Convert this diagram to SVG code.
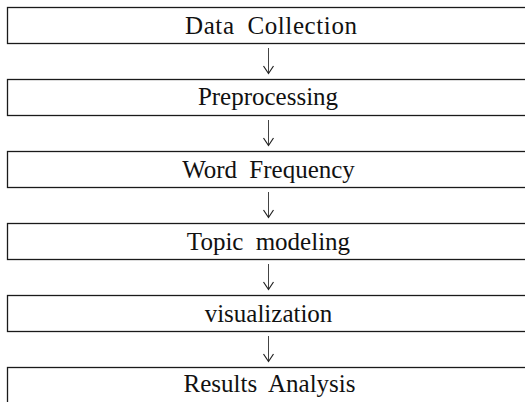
<svg xmlns="http://www.w3.org/2000/svg" width="525" height="402" viewBox="0 0 525 402">
<style>
.box{fill:#ffffff;stroke:#1a1a1a;stroke-width:1.3}
.lbl{font-family:'Liberation Serif','Times New Roman',Times,'DejaVu Serif',serif;font-size:25px;fill:#111;text-anchor:middle;word-spacing:6px}
.arr{stroke:#444;stroke-width:1;fill:none}
.head{fill:none;stroke:#222;stroke-width:1.2}
</style>
<rect width="525" height="402" fill="#ffffff"/>
<g id="n1"><rect class="box" x="7.5" y="7.5" width="530" height="36"/><text class="lbl" x="271" y="34" textLength="172" lengthAdjust="spacing">Data Collection</text></g>
<g id="n2"><rect class="box" x="7.5" y="79.5" width="530" height="36"/><text class="lbl" x="268" y="105">Preprocessing</text></g>
<g id="n3"><rect class="box" x="7.5" y="151.5" width="530" height="36"/><text class="lbl" x="268.5" y="178">Word Frequency</text></g>
<g id="n4"><rect class="box" x="7.5" y="223.5" width="530" height="36"/><text class="lbl" x="268.5" y="250">Topic modeling</text></g>
<g id="n5"><rect class="box" x="7.5" y="295.5" width="530" height="36"/><text class="lbl" x="268.5" y="322">visualization</text></g>
<g id="n6"><rect class="box" x="7.5" y="367.5" width="530" height="36"/><text class="lbl" x="269.5" y="392">Results Analysis</text></g>
<g id="connectors">
<line class="arr" x1="268.5" y1="48" x2="268.5" y2="73"/><path class="head" d="M263.5,66 L268.5,73.5 L273.5,66"/>
<line class="arr" x1="268.5" y1="120" x2="268.5" y2="145"/><path class="head" d="M263.5,138 L268.5,145.5 L273.5,138"/>
<line class="arr" x1="268.5" y1="192" x2="268.5" y2="217"/><path class="head" d="M263.5,210 L268.5,217.5 L273.5,210"/>
<line class="arr" x1="268.5" y1="264" x2="268.5" y2="289"/><path class="head" d="M263.5,282 L268.5,289.5 L273.5,282"/>
<line class="arr" x1="268.5" y1="336" x2="268.5" y2="361"/><path class="head" d="M263.5,354 L268.5,361.5 L273.5,354"/>
</g>
</svg>
